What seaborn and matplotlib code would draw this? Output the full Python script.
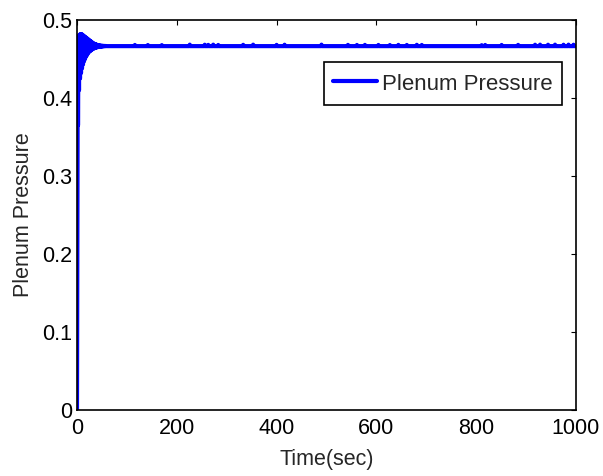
import matplotlib
matplotlib.use("Agg")
import matplotlib.pyplot as plt
import numpy as np
import pandas as pd
import seaborn as sns

# Start-up transient: alternating peaks and troughs of the plenum pressure
peak_times = [1.5, 3, 5, 7, 9, 11, 13, 15, 17, 19, 21, 23, 25, 27, 29,
              31, 33, 35, 37, 39, 41, 43, 45, 47, 49, 51, 53, 55, 57, 59]
peak_values = [0.467, 0.479, 0.481, 0.482, 0.482, 0.481, 0.480, 0.479,
               0.478, 0.477, 0.476, 0.475, 0.474, 0.473, 0.472, 0.471,
               0.470, 0.4695, 0.469, 0.4685, 0.468, 0.4677, 0.4674,
               0.4672, 0.4670, 0.4670, 0.4668, 0.4668, 0.4667, 0.4666]
trough_times = [2, 4, 6, 8, 10, 12, 14, 16, 18, 20, 22, 24, 26, 28, 30,
                32, 34, 36, 38, 40, 42, 44, 46, 48, 50, 52, 54, 56, 58, 60]
trough_values = [0.365, 0.410, 0.425, 0.432, 0.438, 0.443, 0.447, 0.450,
                 0.453, 0.455, 0.457, 0.459, 0.460, 0.461, 0.462, 0.463,
                 0.4635, 0.464, 0.4645, 0.465, 0.4652, 0.4655, 0.4658,
                 0.4660, 0.4660, 0.4662, 0.4663, 0.4664, 0.4665, 0.4665]

# Settled operation: steady level with short spikes
steady_level = 0.4665
end_time = 1000
spike_times = [116, 142, 170, 226, 256, 263, 273, 283, 333, 353, 400, 416,
               490, 543, 561, 577, 604, 627, 644, 661, 681, 691, 811, 818,
               851, 884, 918, 928, 944, 958, 975, 985, 995]
spike_values = [0.4680, 0.4679, 0.4678, 0.4684, 0.4683, 0.4681, 0.4684,
                0.4680, 0.4682, 0.4684, 0.4681, 0.4683, 0.4684, 0.4681,
                0.4680, 0.4681, 0.4680, 0.4679, 0.4681, 0.4680, 0.4682,
                0.4680, 0.4677, 0.4680, 0.4680, 0.4681, 0.4683, 0.4684,
                0.4683, 0.4684, 0.4683, 0.4684, 0.4683]

# Assemble the time series
t_list = [0.0]
p_list = [0.0]
for pt, pv, tt, tv in zip(peak_times, peak_values, trough_times, trough_values):
    t_list += [pt, tt]
    p_list += [pv, tv]
for st, sv in zip(spike_times, spike_values):
    t_list += [st - 0.8, st, st + 0.8]
    p_list += [steady_level, sv, steady_level]
t_list.append(end_time)
p_list.append(steady_level)

df = pd.DataFrame({"Time(sec)": t_list, "Plenum Pressure": p_list})

sns.set_style("white")
plt.rcParams["font.family"] = ["Liberation Sans", "DejaVu Sans"]
plt.rcParams["xtick.direction"] = "in"
plt.rcParams["ytick.direction"] = "in"

fig = plt.figure(figsize=(6.03, 4.76), dpi=100)
ax = fig.add_axes([0.1277, 0.1387, 0.8275, 0.8193])

sns.lineplot(data=df, x="Time(sec)", y="Plenum Pressure", ax=ax,
             color="#0000ff", linewidth=3, estimator=None, sort=False,
             label="Plenum Pressure")

ax.set_xlim(0, 1000)
ax.set_ylim(0, 0.5)
ax.set_xticks([0, 200, 400, 600, 800, 1000])
ax.set_xticklabels(["0", "200", "400", "600", "800", "1000"])
ax.set_yticks([0, 0.1, 0.2, 0.3, 0.4, 0.5])
ax.set_yticklabels(["0", "0.1", "0.2", "0.3", "0.4", "0.5"])

fs = 15.5
ax.tick_params(axis="both", which="both", direction="in", length=3.5,
               width=0.8, colors="black", labelsize=fs, pad=3.5,
               top=True, right=True)
ax.tick_params(axis="x", pad=6)
for sp in ax.spines.values():
    sp.set_color("black")
    sp.set_linewidth(1.2)

ax.set_xlabel("Time(sec)", fontsize=fs, labelpad=7)
ax.set_ylabel("Plenum Pressure", fontsize=fs, labelpad=6)

leg = ax.legend(loc="upper right", bbox_to_anchor=(0.972, 0.893),
                borderaxespad=0, fontsize=16, frameon=True, fancybox=False,
                framealpha=1, edgecolor="black", handlelength=1.95,
                handleheight=1.25, handletextpad=0.25, borderpad=0.42)
leg.get_frame().set_linewidth(1.2)
for h in leg.get_lines():
    h.set_linewidth(3)

fig.savefig("out.png", dpi=100)
